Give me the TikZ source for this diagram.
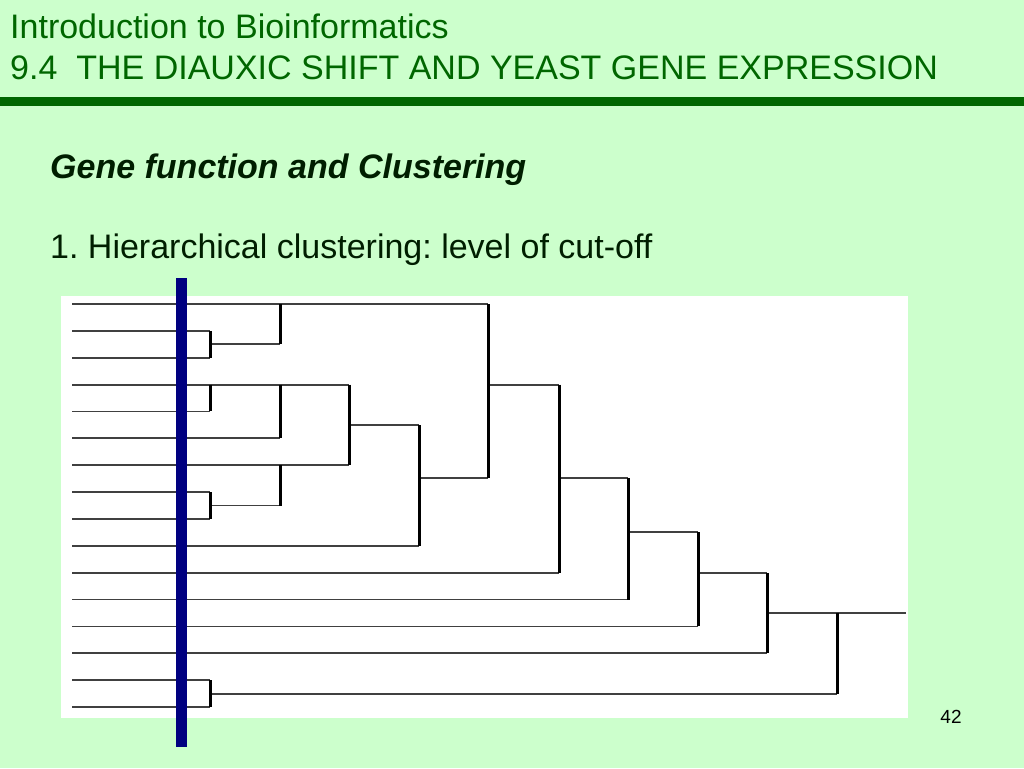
\documentclass[tikz,border=0pt]{standalone}
\usepackage{fontspec}
\setmainfont{Liberation Sans}
\definecolor{slidebg}{RGB}{204,255,204}
\definecolor{titlegreen}{RGB}{0,102,0}
\definecolor{cutblue}{RGB}{0,0,128}
\definecolor{bodytext}{RGB}{0,30,0}

\begin{document}
\begin{tikzpicture}[x=1pt, y=-1pt,
    hline/.style={line width=1.8pt, draw=black!75},
    vline/.style={line width=3pt, draw=black},
    slidetext/.style={anchor=base west, inner sep=0pt, font=\fontsize{34}{40}\selectfont}]
      \useasboundingbox (0,0) rectangle (1024,768);
      \fill[slidebg] (0,0) rectangle (1024,768);
      \fill[titlegreen] (0,97) rectangle (1024,106);
      %
      \node[slidetext, text=titlegreen] (T1) at (10,38) {Introduction to Bioinformatics};
      \node[slidetext, text=titlegreen] (T2) at (10,79) {9.4\ \ THE DIAUXIC SHIFT AND YEAST GENE EXPRESSION};
      \node[slidetext, text=bodytext, font=\fontsize{34}{40}\selectfont\bfseries\itshape] (H1) at (50,178) {Gene function and Clustering};
      \node[slidetext, text=bodytext] (H2) at (50,258) {1.\ Hierarchical clustering:\ level of cut-off};
      \node[anchor=base, inner sep=0pt, font=\fontsize{19}{22}\selectfont] (P1) at (951,723) {42};
      %
      \fill[white] (61,296) rectangle (908,718);
      %
      \foreach \i in {1,...,16}
        \coordinate (l\i) at (72,{304+26.87*(\i-1)});
      \coordinate (a23) at (210,344.3);
      \coordinate (b13) at (280,304);
      \coordinate (c45) at (210,384.6);
      \coordinate (c46) at (280,384.6);
      \coordinate (c89) at (210,505.5);
      \coordinate (c79) at (280,465.2);
      \coordinate (c49) at (349,425);
      \coordinate (c410) at (419,478);
      \coordinate (c110) at (488,384.6);
      \coordinate (c111) at (559,478);
      \coordinate (c112) at (628,532);
      \coordinate (c113) at (698,573);
      \coordinate (c114) at (767,613);
      \coordinate (c1516) at (210,693.6);
      \coordinate (root) at (837,613);
      \coordinate (out) at (906,613);
      %
      \foreach \i/\t in {1/c110, 2/a23, 3/a23, 4/c49, 5/c45, 6/c46, 7/c49, 8/c89, 9/c89,
                         10/c410, 11/c111, 12/c112, 13/c113, 14/c114, 15/c1516, 16/c1516}
        \draw[hline] (l\i) -- (\t |- l\i);
      \foreach \n/\p in {a23/b13, c89/c79, c49/c410, c410/c110, c110/c111, c111/c112,
                         c112/c113, c113/c114, c114/root, c1516/root}
        \draw[hline] (\n) -- (\p |- \n);
      \draw[hline] (root) -- (out);
      %
      \foreach \n/\p/\q in {a23/l2/l3, b13/l1/a23, c45/l4/l5, c46/c45/l6, c89/l8/l9,
                            c79/l7/c89, c49/c46/c79, c410/c49/l10, c110/b13/c410,
                            c111/c110/l11, c112/c111/l12, c113/c112/l13, c114/c113/l14,
                            c1516/l15/l16, root/c114/c1516}
        \draw[vline] (\n |- \p) -- (\n |- \q);
      %
      \coordinate (cuttop) at (181.5,278);
      \coordinate (cutbot) at (181.5,747);
      \draw[line width=11pt, cutblue] (cuttop) -- (cutbot);
\end{tikzpicture}
\end{document}
